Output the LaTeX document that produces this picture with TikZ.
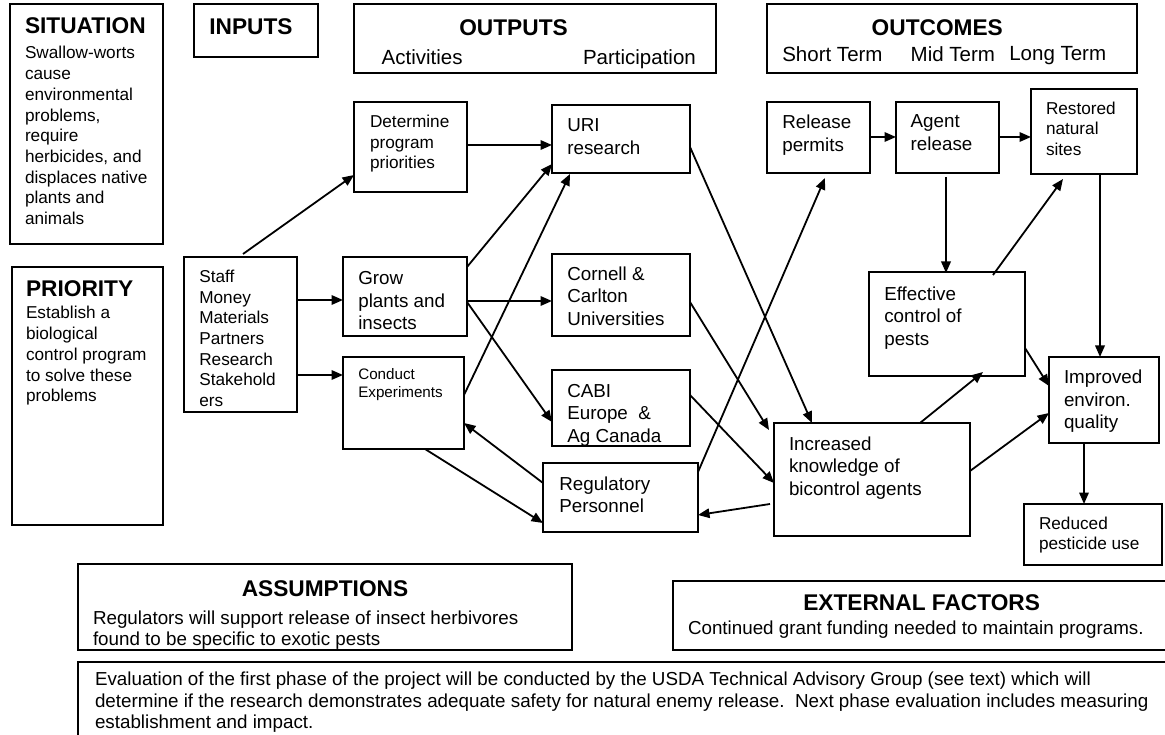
\documentclass[tikz,border=0pt]{standalone}
\usepackage{fontspec}
\setmainfont{Liberation Sans}
\usetikzlibrary{arrows.meta}
\newcommand\fA{\fontsize{17.2}{20.7}\selectfont}
\newcommand\fB{\fontsize{18.8}{22.6}\selectfont}
\newcommand\fC{\fontsize{15.2}{17.7}\selectfont}
\newcommand\fH{\fontsize{22.7}{26}\selectfont\bfseries}
\newcommand\fM{\fontsize{20.5}{24}\selectfont}
\newcommand\fE{\fontsize{18.8}{21.6}\selectfont}
\tikzset{
  box/.style={draw, line width=1.3pt, rectangle, inner sep=0pt, outer sep=0pt, anchor=north west},
  txt/.style={anchor=north west, inner sep=0pt, outer sep=0pt, align=left},
  arr/.style={-{Triangle[length=11.5pt,width=9.5pt]}, line width=1.8pt},
}
\begin{document}
\begin{tikzpicture}[x=1pt,y=-1pt]
\fill[white] (0,0) rectangle (1165,735);
\useasboundingbox (0,0) rectangle (1165,735);
% boxes
\node[box, minimum width=153pt, minimum height=240pt] (sit) at (10,4) {};
\node[box, minimum width=151pt, minimum height=258pt] (pri) at (12,267) {};
\node[box, minimum width=124pt, minimum height=53pt] (inp) at (194,4) {};
\node[box, minimum width=362pt, minimum height=69pt] (out) at (354,4) {};
\node[box, minimum width=370pt, minimum height=69pt] (outc) at (767,4) {};
\node[box, minimum width=113pt, minimum height=90pt] (det) at (354,102) {};
\node[box, minimum width=138pt, minimum height=68pt] (uri) at (552,105) {};
\node[box, minimum width=113pt, minimum height=155pt] (res) at (184,257) {};
\node[box, minimum width=124pt, minimum height=79pt] (grow) at (343,257) {};
\node[box, minimum width=121pt, minimum height=92pt] (cond) at (343,357) {};
\node[box, minimum width=138pt, minimum height=82pt] (corn) at (552,254) {};
\node[box, minimum width=138pt, minimum height=76pt] (cabi) at (552,370) {};
\node[box, minimum width=155pt, minimum height=69pt] (reg) at (543,463) {};
\node[box, minimum width=196pt, minimum height=113pt] (know) at (774,423) {};
\node[box, minimum width=156pt, minimum height=104pt] (eff) at (869,272) {};
\node[box, minimum width=103pt, minimum height=71pt] (perm) at (767,102) {};
\node[box, minimum width=103pt, minimum height=71pt] (agent) at (896,102) {};
\node[box, minimum width=106pt, minimum height=85pt] (rest) at (1031,89) {};
\node[box, minimum width=110pt, minimum height=86pt] (impr) at (1049,357) {};
\node[box, minimum width=138pt, minimum height=61pt] (redu) at (1024,504) {};
\node[box, minimum width=494pt, minimum height=86pt] (assm) at (78,564) {};
\node[box, minimum width=499pt, minimum height=69pt] (ext) at (673,581) {};
\node[box, minimum width=1100pt, minimum height=90pt] (eval) at (78,662) {};
% texts
\node[txt, font=\fH] (sit-h) at (25,18) {SITUATION};
\node[txt, font=\fA] (sit-t) at (25,46.5) {Swallow-worts\\cause\\environmental\\problems,\\require\\herbicides, and\\displaces native\\plants and\\animals};
\node[txt, font=\fH] (pri-h) at (26,280.5) {PRIORITY};
\node[txt, font=\fA] (pri-t) at (26,306.5) {Establish a\\biological\\control program\\to solve these\\problems};
\node[txt, font=\fH] (inp-h) at (209.3,18.3) {INPUTS};
\node[txt, font=\fH] (out-h) at (459.3,20) {OUTPUTS};
\node[txt, font=\fM] (out-a) at (381.7,49.5) {Activities};
\node[txt, font=\fM] (out-p) at (583,49.5) {Participation};
\node[txt, font=\fH] (outc-h) at (871.7,19.3) {OUTCOMES};
\node[txt, font=\fM] (outc-s) at (782.3,46.5) {Short Term};
\node[txt, font=\fM] (outc-m) at (910.7,46.5) {Mid Term};
\node[txt, font=\fM] (outc-l) at (1009.3,46.5) {Long Term};
\node[txt, font=\fA] (det-t) at (370,115) {Determine\\program\\priorities};
\node[txt, font=\fB] (uri-t) at (567.3,119) {URI\\research};
\node[txt, font=\fA] (res-t) at (199.3,270) {Staff\\Money\\Materials\\Partners\\Research\\Stakehold\\ers};
\node[txt, font=\fB] (grow-t) at (358.3,271.5) {Grow\\plants and\\insects};
\node[txt, font=\fC] (cond-t) at (358.3,368.7) {Conduct\\Experiments};
\node[txt, font=\fB] (corn-t) at (567.3,266.7) {Cornell \&\\Carlton\\Universities};
\node[txt, font=\fB] (cabi-t) at (567.3,384) {CABI\\Europe\ \ \&\\Ag Canada};
\node[txt, font=\fB] (reg-t) at (559.3,476.7) {Regulatory\\Personnel};
\node[txt, font=\fB] (know-t) at (789,436.7) {Increased\\knowledge of\\bicontrol agents};
\node[txt, font=\fB] (eff-t) at (884.3,286.5) {Effective\\control of\\pests};
\node[txt, font=\fB] (perm-t) at (782.3,115) {Release\\permits};
\node[txt, font=\fB] (agent-t) at (910.7,115) {Agent\\release};
\node[txt, font=\fA] (rest-t) at (1046,101.7) {Restored\\natural\\sites};
\node[txt, font=\fB] (impr-t) at (1064,370) {Improved\\environ.\\quality};
\node[txt, font=\fA] (redu-t) at (1039,516.7) {Reduced\\pesticide use};
\node[anchor=north, inner sep=0pt, font=\fH] (assm-h) at (325,580.5) {ASSUMPTIONS};
\node[txt, font=\fE] (assm-t) at (93,610.5) {Regulators will support release of insect herbivores\\found to be specific to exotic pests};
\node[txt, font=\fH] (ext-h) at (803.3,595) {EXTERNAL FACTORS};
\node[txt, font=\fE] (ext-t) at (688,621) {Continued grant funding needed to maintain programs.};
\node[txt, font=\fE] (eval-t) at (95,672) {Evaluation of the first phase of the project will be conducted by the USDA Technical Advisory Group (see text) which will\\determine if the research demonstrates adequate safety for natural enemy release.\ \ Next phase evaluation includes measuring\\establishment and impact.};
% connectors
\draw[arr] ([shift={(59,-3)}]res.north west) -- ([shift={(0,73)}]det.north west);
\draw[arr] ([shift={(113,43)}]res.north west) -- ([shift={(0,43)}]grow.north west);
\draw[arr] ([shift={(113,118)}]res.north west) -- ([shift={(0,18)}]cond.north west);
\draw[arr] ([shift={(113,43)}]det.north west) -- ([shift={(0,40)}]uri.north west);
\draw[arr] ([shift={(124,10)}]grow.north west) -- ([shift={(0,59)}]uri.north west);
\draw[arr] ([shift={(121,38)}]cond.north west) -- ([shift={(18,69)}]uri.north west);
\draw[arr] ([shift={(124,44)}]grow.north west) -- ([shift={(0,47)}]corn.north west);
\draw[arr] ([shift={(124,45)}]grow.north west) -- ([shift={(0,52)}]cabi.north west);
\draw[arr] ([shift={(138,42)}]uri.north west) -- ([shift={(38,0)}]know.north west);
\draw[arr] ([shift={(138,48)}]corn.north west) -- ([shift={(-5,7)}]know.north west);
\draw[arr] ([shift={(138,25)}]cabi.north west) -- ([shift={(0,60)}]know.north west);
\draw[arr] ([shift={(-4,81)}]know.north west) -- ([shift={(155,52)}]reg.north west);
\draw[arr] ([shift={(155,9)}]reg.north west) -- ([shift={(58,76)}]perm.north west);
\draw[arr] ([shift={(0,20)}]reg.north west) -- ([shift={(121,66)}]cond.north west);
\draw[arr] ([shift={(82,92)}]cond.north west) -- ([shift={(0,60)}]reg.north west);
\draw[arr] ([shift={(103,35)}]perm.north west) -- ([shift={(0,35)}]agent.north west);
\draw[arr] ([shift={(103,35)}]agent.north west) -- ([shift={(0,48)}]rest.north west);
\draw[arr] ([shift={(50,75)}]agent.north west) -- ([shift={(77,1)}]eff.north west);
\draw[arr] ([shift={(124,3)}]eff.north west) -- ([shift={(32,90)}]rest.north west);
\draw[arr] ([shift={(146,0)}]know.north west) -- ([shift={(114,100)}]eff.north west);
\draw[arr] ([shift={(156,76)}]eff.north west) -- ([shift={(0,29)}]impr.north west);
\draw[arr] ([shift={(196,48)}]know.north west) -- ([shift={(0,56)}]impr.north west);
\draw[arr] ([shift={(69,85)}]rest.north west) -- ([shift={(51,0)}]impr.north west);
\draw[arr] ([shift={(35,86)}]impr.north west) -- ([shift={(60,0)}]redu.north west);
\end{tikzpicture}
\end{document}
